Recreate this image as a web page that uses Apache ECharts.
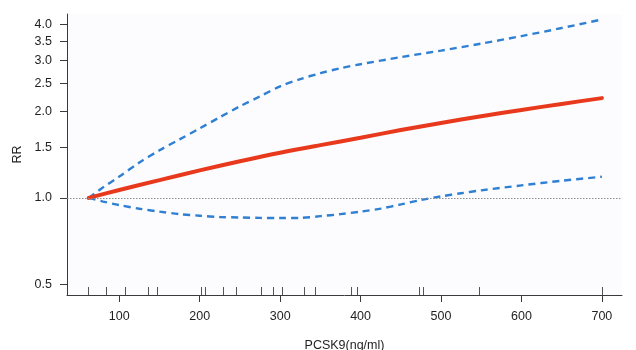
<!DOCTYPE html>
<html>
<head>
<meta charset="utf-8">
<script src="https://cdn.jsdelivr.net/npm/echarts@6/dist/echarts.min.js"></script>
<style>
html,body{margin:0;padding:0;background:#ffffff;}
#chart{width:636px;height:350px;}
</style>
</head>
<body>
<div id="chart"></div>
<script>
// ---- data ----
const fitX  = [62, 100, 150, 200, 250, 300, 350, 400, 450, 500, 550, 600, 650, 700];
const fitRR = [1.00, 1.065, 1.152, 1.246, 1.34, 1.435, 1.525, 1.617, 1.72, 1.82, 1.92, 2.02, 2.12, 2.22];

const upperX  = [62, 80, 100, 125, 150, 175, 200, 225, 250, 275, 300, 325, 350, 375, 400, 450, 500, 550, 600, 650, 700];
const upperRR = [1.00, 1.088, 1.186, 1.327, 1.463, 1.597, 1.743, 1.906, 2.08, 2.252, 2.44, 2.585, 2.71, 2.82, 2.912, 3.081, 3.246, 3.433, 3.646, 3.888, 4.163];

const lowerX  = [62, 80, 100, 125, 150, 175, 200, 225, 250, 275, 300, 325, 350, 375, 400, 425, 450, 475, 500, 525, 550, 600, 650, 700];
const lowerRR = [1.00, 0.971, 0.944, 0.917, 0.896, 0.878, 0.867, 0.858, 0.855, 0.852, 0.851, 0.852, 0.864, 0.878, 0.896, 0.918, 0.949, 0.983, 1.012, 1.038, 1.062, 1.105, 1.147, 1.184];

const rugValues = [62, 84, 108, 136, 147, 202, 207, 229, 246, 276, 291, 302, 330, 344, 388, 396, 473, 478, 547, 700];

const xTickValues = [100, 200, 300, 400, 500, 600, 700];
const yTickValues = [0.5, 1.0, 1.5, 2.0, 2.5, 3.0, 3.5, 4.0];
const refRR = 1.0;

const xTitle = 'PCSK9(ng/ml)';
const yTitle = 'RR';

// ---- chart ----
const FONT = 'Liberation Sans, Arial, Helvetica, sans-serif';
const AXIS_COLOR = '#3a3a3a';
const TEXT_COLOR = '#1f1f1f';
const X_MIN = 35, X_MAX = 725;
const Y_MIN = 0.46, Y_MAX = 4.35;

const zip = (xs, ys) => xs.map((x, i) => [x, ys[i]]);

const chart = echarts.init(document.getElementById('chart'), null, {renderer: 'canvas'});
chart.setOption({
  animation: false,
  backgroundColor: '#ffffff',
  textStyle: {fontFamily: FONT},
  grid: {left: 67, right: 14, top: 14, bottom: 55, show: true, borderWidth: 0, backgroundColor: '#fcfcfe',
         containLabel: false, outerBoundsMode: 'none'},
  xAxis: [
    {
      type: 'value', min: X_MIN, max: X_MAX,
      name: xTitle, nameLocation: 'middle', nameGap: 44,
      nameTextStyle: {fontSize: 12.5, color: TEXT_COLOR, fontFamily: FONT},
      axisLine: {show: true, lineStyle: {color: AXIS_COLOR, width: 1}},
      axisTick: {show: true, length: 7, lineStyle: {color: AXIS_COLOR, width: 1}, customValues: xTickValues},
      axisLabel: {show: true, fontSize: 12.5, color: TEXT_COLOR, fontFamily: FONT, margin: 15, customValues: xTickValues},
      splitLine: {show: false}
    },
    {
      type: 'value', min: X_MIN, max: X_MAX, position: 'bottom',
      axisLine: {show: false},
      axisTick: {show: true, inside: true, length: 8, lineStyle: {color: '#555555', width: 1}, customValues: rugValues},
      axisLabel: {show: false},
      splitLine: {show: false}
    }
  ],
  yAxis: {
    type: 'log', logBase: 10, min: Y_MIN, max: Y_MAX,
    name: yTitle, nameLocation: 'middle', nameGap: 43,
    nameTextStyle: {fontSize: 12.5, color: TEXT_COLOR, fontFamily: FONT},
    axisLine: {show: true, lineStyle: {color: AXIS_COLOR, width: 1}},
    axisTick: {show: true, length: 7, lineStyle: {color: AXIS_COLOR, width: 1}, customValues: yTickValues},
    axisLabel: {show: true, fontSize: 12.5, color: TEXT_COLOR, fontFamily: FONT, margin: 15,
      customValues: yTickValues, formatter: v => Number(v).toFixed(1)},
    splitLine: {show: false}
  },
  series: [
    {
      name: 'upper', type: 'line', xAxisIndex: 0, data: zip(upperX, upperRR),
      showSymbol: false, symbol: 'none', smooth: 0.3,
      lineStyle: {color: '#2f80d2', width: 2.4, type: [7, 5]}, z: 3
    },
    {
      name: 'lower', type: 'line', xAxisIndex: 0, data: zip(lowerX, lowerRR),
      showSymbol: false, symbol: 'none', smooth: 0.3,
      lineStyle: {color: '#2f80d2', width: 2.4, type: [7, 5]}, z: 3
    },
    {
      name: 'fit', type: 'line', xAxisIndex: 0, data: zip(fitX, fitRR),
      showSymbol: false, symbol: 'none', smooth: 0.3,
      lineStyle: {color: '#e8391d', width: 4, cap: 'round'}, z: 4,
      markLine: {
        silent: true, symbol: 'none', label: {show: false},
        lineStyle: {color: '#8a8f96', width: 1, type: [1.5, 1.5]},
        data: [{yAxis: refRR}]
      }
    }
  ]
});
</script>
</body>
</html>
